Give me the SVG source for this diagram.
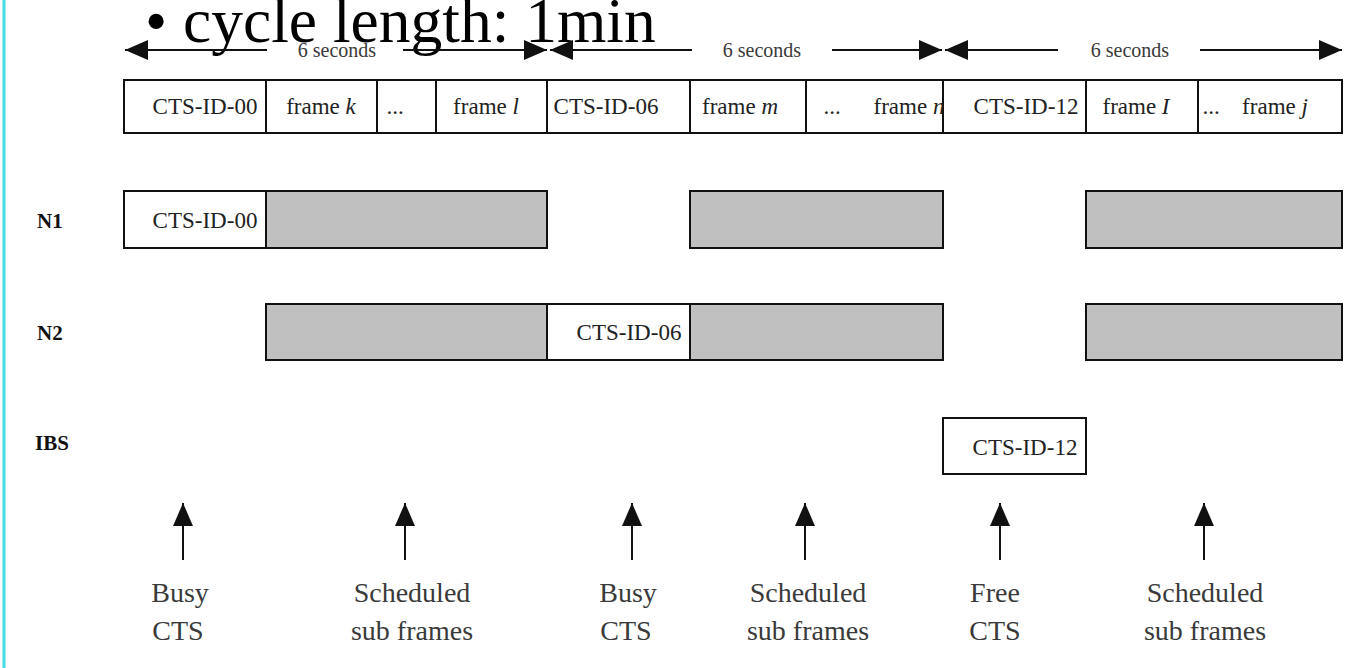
<svg xmlns="http://www.w3.org/2000/svg" width="1370" height="668" viewBox="0 0 1370 668">
<style>
  .t { font-family: "Liberation Serif", "Times New Roman", serif; fill: #222; }
  .f { font-size: 23px; text-anchor: middle; }
  .s { font-size: 20px; text-anchor: middle; fill: #3a3a3a; }
  .b { font-size: 21px; font-weight: bold; fill: #111; }
  .lab { font-size: 28px; text-anchor: middle; fill: #3a3a3a; }
  .cell { fill: #ffffff; stroke: #111; stroke-width: 2; }
  .busy { fill: #c0c0c0; stroke: #111; stroke-width: 2; }
  .div { stroke: #111; stroke-width: 2; }
  .arr { stroke: #111; stroke-width: 2; fill: none; }
</style>
<defs>
  <marker id="head" viewBox="0 0 23 20" refX="23" refY="10" markerWidth="23" markerHeight="20" markerUnits="userSpaceOnUse" orient="auto-start-reverse">
    <path d="M0,0 L23,10 L0,20 z" fill="#111"/>
  </marker>
</defs>
<rect x="0" y="0" width="1370" height="668" fill="#ffffff"/>
<line x1="4" y1="0" x2="4" y2="668" stroke="#40dde6" stroke-width="3"/>

<text class="t" x="145" y="42" font-size="63.5" style="fill:#000">• cycle length: 1min</text>

<g id="connectors">
  <path class="arr" d="M125,50 L267,50 M403,50 L547,50" marker-start="url(#head)" marker-end="url(#head)"/>
  <path class="arr" d="M550,50 L692,50 M832,50 L942,50" marker-start="url(#head)" marker-end="url(#head)"/>
  <path class="arr" d="M945,50 L1058,50 M1200,50 L1342,50" marker-start="url(#head)" marker-end="url(#head)"/>
  <line class="arr" x1="183" y1="560" x2="183" y2="503" marker-end="url(#head)"/>
  <line class="arr" x1="405" y1="560" x2="405" y2="503" marker-end="url(#head)"/>
  <line class="arr" x1="632" y1="560" x2="632" y2="503" marker-end="url(#head)"/>
  <line class="arr" x1="805" y1="560" x2="805" y2="503" marker-end="url(#head)"/>
  <line class="arr" x1="1000" y1="560" x2="1000" y2="503" marker-end="url(#head)"/>
  <line class="arr" x1="1204" y1="560" x2="1204" y2="503" marker-end="url(#head)"/>
</g>
<g id="durations">
  <text class="t s" x="337" y="57">6 seconds</text>
  <text class="t s" x="762" y="57">6 seconds</text>
  <text class="t s" x="1130" y="57">6 seconds</text>
</g>

<g id="frames">
  <rect class="cell" x="124" y="80" width="1218" height="53"/>
  <line class="div" x1="266" y1="80" x2="266" y2="133"/>
  <line class="div" x1="377" y1="80" x2="377" y2="133"/>
  <line class="div" x1="436" y1="80" x2="436" y2="133"/>
  <line class="div" x1="547" y1="80" x2="547" y2="133"/>
  <line class="div" x1="690" y1="80" x2="690" y2="133"/>
  <line class="div" x1="806" y1="80" x2="806" y2="133"/>
  <line class="div" x1="943" y1="80" x2="943" y2="133"/>
  <line class="div" x1="1086" y1="80" x2="1086" y2="133"/>
  <line class="div" x1="1198" y1="80" x2="1198" y2="133"/>
  <text class="t f" x="205" y="114">CTS-ID-00</text>
  <text class="t f" x="321" y="114">frame <tspan font-style="italic">k</tspan></text>
  <text class="t f" x="395" y="114">...</text>
  <text class="t f" x="486" y="114">frame <tspan font-style="italic">l</tspan></text>
  <text class="t f" x="606" y="114">CTS-ID-06</text>
  <text class="t f" x="740" y="114">frame <tspan font-style="italic">m</tspan></text>
  <text class="t f" x="832" y="114">...</text>
  <text class="t f" x="909" y="114">frame <tspan font-style="italic">n</tspan></text>
  <text class="t f" x="1026" y="114">CTS-ID-12</text>
  <text class="t f" x="1136" y="114">frame <tspan font-style="italic">I</tspan></text>
  <text class="t f" x="1211" y="114">...</text>
  <text class="t f" x="1275" y="114">frame <tspan font-style="italic">j</tspan></text>
</g>

<g id="N1">
  <text class="t b" x="37" y="228">N1</text>
  <rect class="cell" x="124" y="191" width="142" height="57"/>
  <text class="t f" x="205" y="228">CTS-ID-00</text>
  <rect class="busy" x="266" y="191" width="281" height="57"/>
  <rect class="busy" x="690" y="191" width="253" height="57"/>
  <rect class="busy" x="1086" y="191" width="256" height="57"/>
</g>

<g id="N2">
  <text class="t b" x="37" y="340">N2</text>
  <rect class="busy" x="266" y="304" width="281" height="56"/>
  <rect class="cell" x="547" y="304" width="143" height="56"/>
  <text class="t f" x="629" y="340">CTS-ID-06</text>
  <rect class="busy" x="690" y="304" width="253" height="56"/>
  <rect class="busy" x="1086" y="304" width="256" height="56"/>
</g>

<g id="IBS">
  <text class="t b" x="35" y="450">IBS</text>
  <rect class="cell" x="943" y="418" width="143" height="56"/>
  <text class="t f" x="1025" y="455">CTS-ID-12</text>
</g>

<g id="labels">
  <text class="t lab" x="180" y="602">Busy</text>
  <text class="t lab" x="178" y="640">CTS</text>
  <text class="t lab" x="412" y="602">Scheduled</text>
  <text class="t lab" x="412" y="640">sub frames</text>
  <text class="t lab" x="628" y="602">Busy</text>
  <text class="t lab" x="626" y="640">CTS</text>
  <text class="t lab" x="808" y="602">Scheduled</text>
  <text class="t lab" x="808" y="640">sub frames</text>
  <text class="t lab" x="995" y="602">Free</text>
  <text class="t lab" x="995" y="640">CTS</text>
  <text class="t lab" x="1205" y="602">Scheduled</text>
  <text class="t lab" x="1205" y="640">sub frames</text>
</g>
</svg>
